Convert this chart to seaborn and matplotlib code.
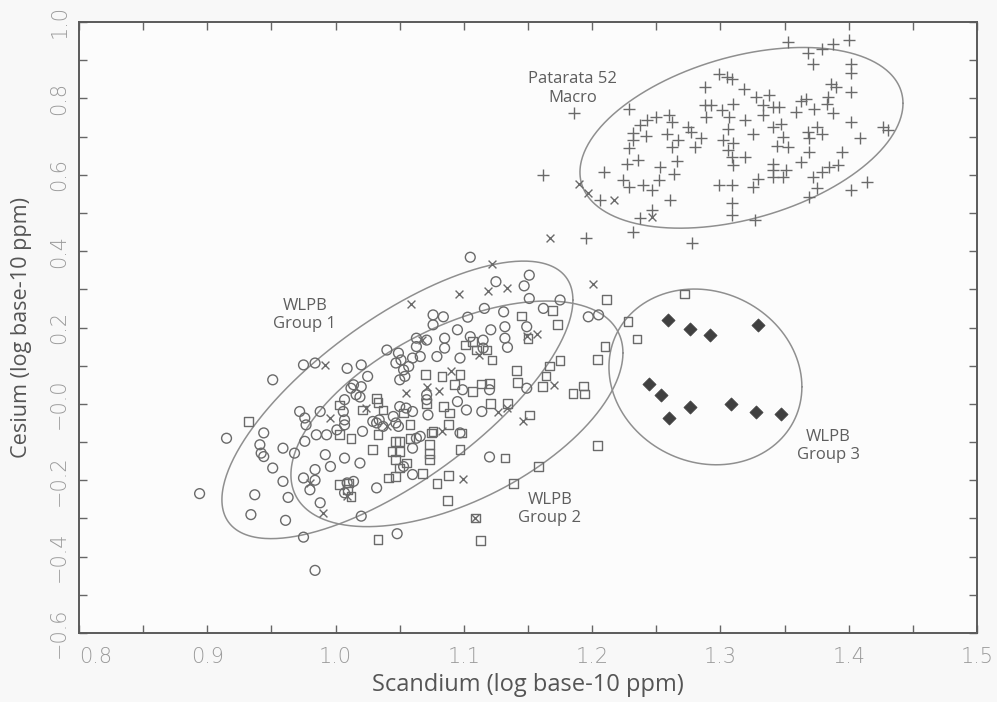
import numpy as np
import pandas as pd
import matplotlib
matplotlib.use("Agg")
import matplotlib.pyplot as plt
import seaborn as sns

# ---------------- data (log10 ppm) ----------------
# WLPB Group 1 (open circles)
g1_x = [0.894,0.915,0.951,0.975,0.984,1.009,1.020,1.025,1.012,1.020,1.016,0.988,0.972,0.976,0.977,1.007,1.006,
        0.985,0.976,0.993,0.944,0.941,0.942,0.959,0.968,0.992,1.007,1.019,1.032,1.040,1.049,1.063,1.076,1.051,
        1.054,1.060,1.066,1.045,1.060,1.071,1.050,1.072,0.951,0.959,0.937,0.934,0.961,0.963,0.975,0.984,0.996,
        0.984,0.975,0.984,0.980,0.988,1.009,1.014,1.007,1.032,1.020,1.048,1.021,1.060,1.060,1.120,1.049,1.063,
        1.014,1.019,1.007,0.944,1.007,1.001,1.029,1.037,1.034,1.050,1.053,1.047,1.057,1.063,1.071,1.055,1.047,
        1.053,1.076,1.071,1.105,1.151,1.125,1.147,1.151,1.175,1.162,1.131,1.116,1.103,1.084,1.095,1.121,1.132,
        1.149,1.132,1.134,1.115,1.105,1.085,1.079,1.097,1.085,1.115,1.197,1.205,1.149,1.120,1.099,1.095,1.102,
        1.114,1.097,1.066]
g1_y = [-0.235,-0.090,0.063,0.102,0.107,0.093,0.102,0.072,0.041,0.045,0.024,-0.020,-0.020,-0.037,-0.055,-0.042,-0.020,
        -0.081,-0.098,-0.081,-0.076,-0.107,-0.129,-0.116,-0.129,-0.133,-0.142,-0.155,-0.050,0.141,0.133,0.172,0.233,0.115,
        0.072,0.120,0.124,-0.033,-0.020,0.011,-0.007,-0.029,-0.168,-0.203,-0.238,-0.290,-0.305,-0.245,-0.349,-0.436,-0.164,
        -0.172,-0.194,-0.200,-0.225,-0.259,-0.207,-0.203,-0.233,-0.220,-0.294,-0.340,-0.072,-0.116,-0.185,-0.139,-0.059,-0.090,
        0.050,0.018,0.011,-0.138,-0.055,-0.068,-0.046,-0.059,-0.042,0.063,0.089,0.107,0.098,0.150,0.167,-0.011,-0.050,
        -0.164,0.207,0.024,0.384,0.337,0.320,0.309,0.276,0.272,0.250,0.241,0.250,0.227,0.228,0.194,0.194,0.202,
        0.202,0.172,0.148,0.167,0.176,0.172,0.124,0.120,0.146,0.146,0.228,0.233,0.041,0.037,0.037,0.006,-0.016,
        -0.020,-0.076,-0.085]

# WLPB Group 2 (open squares)
g2_x = [0.932,1.033,1.113,1.109,1.087,1.079,1.088,1.068,1.041,1.047,1.050,1.047,1.055,1.073,1.073,1.073,1.097,1.098,
        1.076,1.050,1.050,1.044,1.029,1.033,1.012,1.003,1.012,1.009,1.058,1.058,1.145,1.169,1.173,1.211,1.210,1.204,
        1.175,1.167,1.164,1.161,1.141,1.142,1.185,1.193,1.194,1.204,1.150,1.151,1.134,1.121,1.120,1.114,1.107,1.097,
        1.070,1.083,1.093,1.071,1.084,1.089,1.088,1.075,1.132,1.158,1.139,1.107,1.110,1.118,1.122,1.101,1.272,1.228,
        1.235,1.033,1.032,1.021,1.003,1.003,1.047,1.010,1.037,1.053]
g2_y = [-0.046,-0.355,-0.357,-0.299,-0.253,-0.209,-0.188,-0.183,-0.194,-0.190,-0.168,-0.146,-0.155,-0.146,-0.129,-0.107,-0.120,-0.076,
        -0.072,-0.098,-0.125,-0.125,-0.120,-0.081,-0.090,-0.212,-0.242,-0.225,-0.055,-0.090,0.230,0.244,0.207,0.274,0.150,0.117,
        0.113,0.099,0.073,0.045,0.087,0.056,0.028,0.047,0.026,-0.108,0.171,-0.029,0.000,0.002,0.054,0.052,0.032,0.076,
        0.076,0.072,0.050,0.002,-0.007,-0.024,-0.055,-0.076,-0.142,-0.165,-0.209,0.163,0.141,0.141,0.115,0.154,0.288,0.215,
        0.170,0.004,0.015,-0.016,-0.003,-0.081,-0.098,-0.207,-0.016,-0.024]

# WLPB Group 3 (filled diamonds)
g3_x = [1.259,1.276,1.292,1.329,1.244,1.254,1.276,1.260,1.308,1.328,1.347]
g3_y = [0.220,0.196,0.180,0.207,0.052,0.024,-0.009,-0.037,-0.001,-0.021,-0.026]

# Patarata 52 Macro (plus)
pat_x = [1.186,1.195,1.232,1.278,1.237,1.247,1.206,1.209,1.224,1.229,1.240,1.247,1.252,1.253,1.264,1.266,1.261,1.227,
         1.236,1.229,1.232,1.232,1.242,1.237,1.243,1.250,1.229,1.260,1.262,1.258,1.267,1.262,1.275,1.277,1.280,1.285,
         1.288,1.288,1.293,1.289,1.301,1.299,1.305,1.309,1.310,1.307,1.306,1.302,1.310,1.306,1.309,1.310,1.319,1.299,
         1.309,1.309,1.309,1.318,1.319,1.353,1.368,1.379,1.388,1.400,1.372,1.402,1.402,1.386,1.390,1.402,1.384,1.383,
         1.388,1.367,1.363,1.373,1.359,1.328,1.338,1.333,1.341,1.346,1.333,1.325,1.341,1.347,1.349,1.344,1.353,1.375,
         1.368,1.379,1.369,1.369,1.363,1.402,1.409,1.427,1.431,1.395,1.392,1.385,1.379,1.372,1.375,1.369,1.402,1.414,
         1.341,1.341,1.341,1.349,1.351,1.329,1.325,1.327,1.162]
pat_y = [0.762,0.434,0.449,0.420,0.486,0.507,0.535,0.607,0.586,0.568,0.573,0.560,0.586,0.619,0.601,0.636,0.533,0.629,
         0.638,0.669,0.690,0.709,0.701,0.729,0.743,0.750,0.773,0.756,0.738,0.708,0.690,0.673,0.725,0.712,0.673,0.695,
         0.830,0.782,0.782,0.751,0.769,0.865,0.856,0.852,0.786,0.751,0.721,0.690,0.682,0.664,0.647,0.625,0.647,0.573,
         0.573,0.526,0.494,0.825,0.743,0.947,0.918,0.930,0.943,0.952,0.891,0.891,0.866,0.837,0.831,0.817,0.803,0.786,
         0.762,0.799,0.793,0.773,0.764,0.803,0.808,0.782,0.777,0.777,0.756,0.706,0.725,0.734,0.699,0.675,0.673,0.725,
         0.712,0.708,0.695,0.660,0.634,0.738,0.697,0.725,0.716,0.660,0.625,0.619,0.607,0.594,0.564,0.542,0.561,0.581,
         0.629,0.612,0.594,0.594,0.612,0.588,0.568,0.481,0.599]

# Unassigned samples (x)
unk_x = [1.190,1.197,1.217,1.247,1.167,1.201,1.122,1.096,1.119,1.134,1.157,1.149,1.170,1.071,1.081,1.127,1.134,1.146,
         1.083,1.099,1.059,1.067,1.112,1.055,1.040,1.090,0.992,0.996,1.024,0.980,0.990,1.009,1.109]
unk_y = [0.577,0.551,0.533,0.490,0.434,0.314,0.366,0.287,0.296,0.303,0.183,0.178,0.050,0.043,0.035,-0.020,-0.011,-0.044,
         -0.070,-0.197,0.261,0.167,0.128,0.028,-0.059,0.087,0.102,-0.037,-0.011,-0.207,-0.286,-0.242,-0.299]

# Group ellipses: centre, half x-extent, half y-extent, phase (deg)
ell_cx = [1.3164, 1.0482, 1.0946, 1.2883]
ell_cy = [0.6967, 0.0105, -0.0261, 0.0706]
ell_ax = [0.1259, 0.1368, 0.1294, 0.0752]
ell_ay = [0.2366, 0.3634, 0.2954, 0.2301]
ell_ph = [67.6, 44.0, 57.3, 96.5]

labels_txt = ["Patarata 52\nMacro", "WLPB\nGroup 1", "WLPB\nGroup 2", "WLPB\nGroup 3"]
labels_x = [1.185, 0.976, 1.167, 1.384]
labels_y = [0.826, 0.233, -0.276, -0.110]

x_ticks = [0.8, 0.9, 1.0, 1.1, 1.2, 1.3, 1.4, 1.5]
y_ticks = [-0.6, -0.4, -0.2, 0.0, 0.2, 0.4, 0.6, 0.8, 1.0]
y_tick_labels = ["\u22120.6", "\u22120.4", "\u22120.2", "\u22120.0", "0.2", "0.4", "0.6", "0.8", "1.0"]

# ---------------- style ----------------
sns.set_style("ticks")
plt.rcParams["font.family"] = ["Open Sans", "DejaVu Sans"]

fig = plt.figure(figsize=(9.97, 7.02), dpi=100, facecolor="#f8f8f8")
ax = fig.add_axes([79/997, 69/702, 898/997, 611/702])
ax.set_facecolor("#fcfcfc")

mk = "#6a6a6a"
sns.scatterplot(x=g1_x, y=g1_y, marker="o", s=50, color=mk, facecolor="none",
                edgecolor=mk, linewidth=1.0, ax=ax, zorder=3)
sns.scatterplot(x=g2_x, y=g2_y, marker="s", s=40, color=mk, facecolor="none",
                edgecolor=mk, linewidth=1.0, ax=ax, zorder=3)
sns.scatterplot(x=pat_x, y=pat_y, marker="+", s=65, color=mk, linewidth=1.0, ax=ax, zorder=3)
sns.scatterplot(x=unk_x, y=unk_y, marker="x", s=32, color=mk, linewidth=1.0, ax=ax, zorder=3)
sns.scatterplot(x=g3_x, y=g3_y, marker="D", s=45, color="#404040", edgecolor="#404040",
                linewidth=0.5, ax=ax, zorder=4)

t = np.linspace(0, 2 * np.pi, 400)
for cx, cy, a, b, ph in zip(ell_cx, ell_cy, ell_ax, ell_ay, ell_ph):
    ex = cx + a * np.cos(t)
    ey = cy + b * np.cos(t - np.deg2rad(ph))
    sns.lineplot(x=ex, y=ey, sort=False, estimator=None, color="#8f8f8f", linewidth=1.1, ax=ax, zorder=2)

for txt, lx, ly in zip(labels_txt, labels_x, labels_y):
    ax.text(lx, ly, txt, ha="center", va="center", fontsize=12, color="#5e5e5e",
            linespacing=1.2, family=["Open Sans", "DejaVu Sans"])

ax.set_xlim(0.8, 1.5)
ax.set_ylim(-0.6, 1.0)
ax.set_xticks(x_ticks)
ax.set_xticklabels([f"{v:.1f}" for v in x_ticks])
ax.set_xticks(np.arange(0.85, 1.5, 0.1), minor=True)
ax.set_yticks(y_ticks)
ax.set_yticklabels(y_tick_labels, rotation=90, va="center")
ax.set_yticks(np.arange(-0.5, 1.0, 0.2), minor=True)

ax.tick_params(which="both", direction="in", length=6, width=1, color="#666666",
               top=True, right=True, labelsize=15, labelcolor="#9a9a9a")
ax.tick_params(axis="x", which="major", pad=10)
ax.tick_params(axis="y", which="major", pad=7)
for lab in ax.get_xticklabels() + ax.get_yticklabels():
    lab.set_family(["DejaVu Sans"])
    lab.set_fontweight("light")
# first x label sits just right of the corner, clear of the rotated y label
ax.get_xticklabels()[0].set_horizontalalignment("left")

for sp in ax.spines.values():
    sp.set_color("#5a5a5a")
    sp.set_linewidth(1.4)

ax.set_xlabel("Scandium (log base-10 ppm)", fontsize=17, color="#555555")
ax.set_ylabel("Cesium (log base-10 ppm)", fontsize=15.6, color="#555555")
ax.xaxis.set_label_coords(0.5, -0.066)
ax.yaxis.set_label_coords(-0.052, 0.5)

fig.savefig("out.png", dpi=100, facecolor=fig.get_facecolor())
